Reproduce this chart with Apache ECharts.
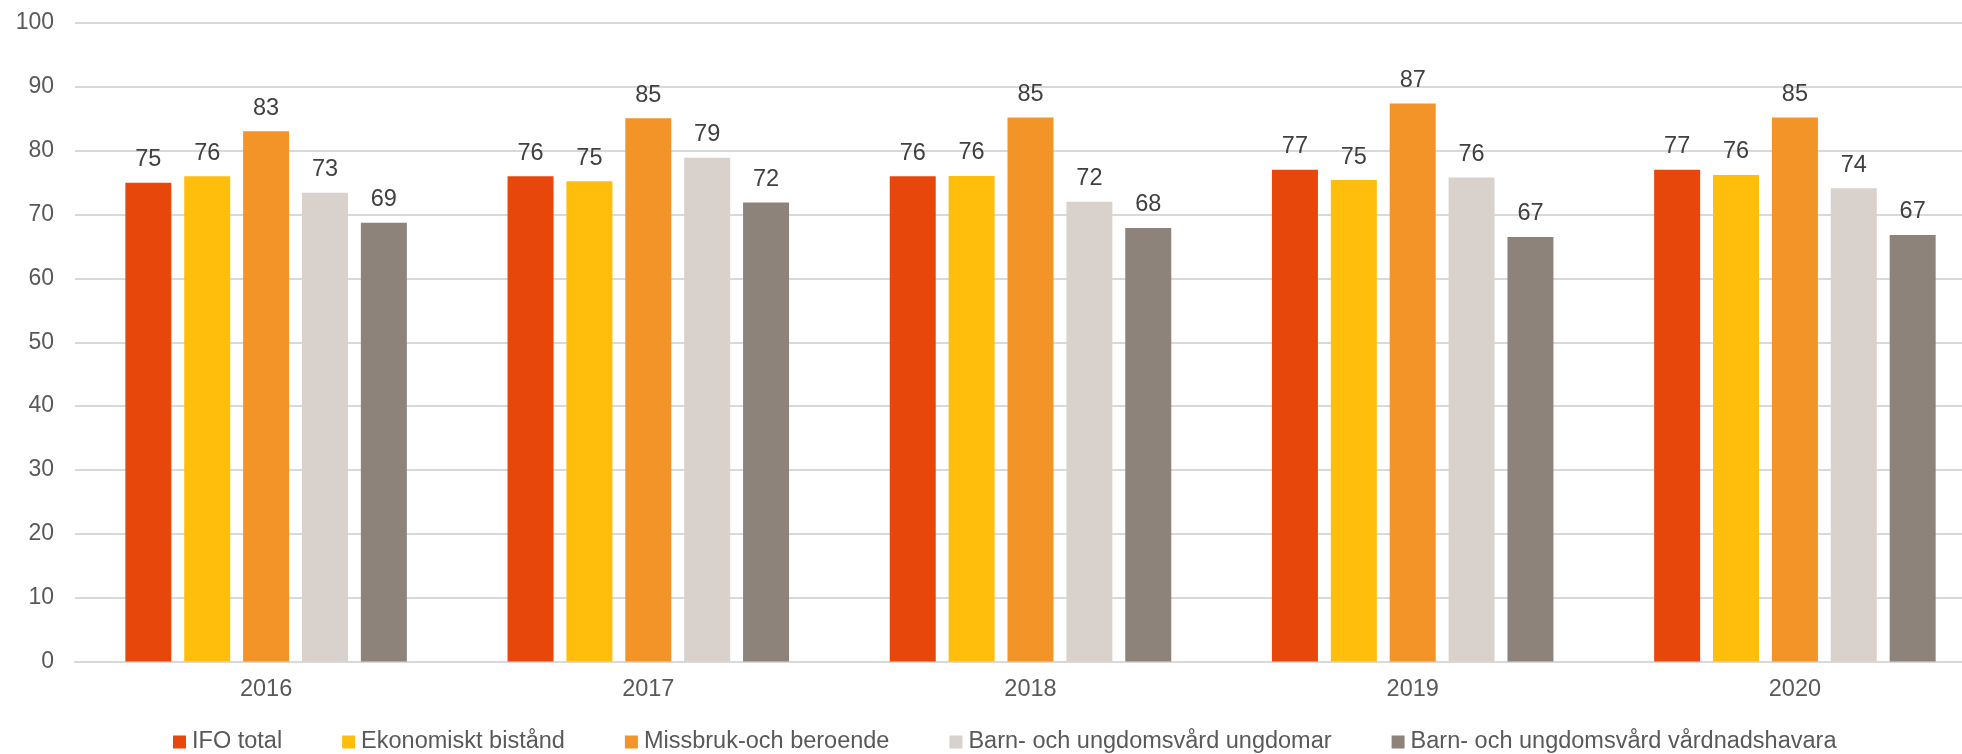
<!DOCTYPE html>
<html>
<head>
<meta charset="utf-8">
<style>
html,body{margin:0;padding:0;background:#fff;}
#chart{width:1962px;height:754px;}
</style>
<script src="https://cdn.jsdelivr.net/npm/echarts@6/dist/echarts.min.js"></script>
</head>
<body>
<div id="chart"></div>
<script>
const categories = ['2016', '2017', '2018', '2019', '2020'];
const seriesNames = ['IFO total', 'Ekonomiskt bistånd', 'Missbruk-och beroende', 'Barn- och ungdomsvård ungdomar', 'Barn- och ungdomsvård vårdnadshavara'];
const ifoTotal = [75.0, 76.0, 76.0, 77.0, 77.0];
const ekonomiskt = [76.0, 75.2, 76.05, 75.4, 76.2];
const missbruk = [83.05, 85.1, 85.2, 87.4, 85.2];
const barnUngdomar = [73.4, 78.9, 72.0, 75.8, 74.1];
const barnVardnad = [68.7, 71.9, 67.9, 66.5, 66.8];
const yTicks = [0, 10, 20, 30, 40, 50, 60, 70, 80, 90, 100];
const colors = ['#E8470B', '#FFBE0B', '#F29427', '#D9D2CC', '#8E837A'];

const font = 'Liberation Sans, Arial, sans-serif';
const allValues = [ifoTotal, ekonomiskt, missbruk, barnUngdomar, barnVardnad];

const chart = echarts.init(document.getElementById('chart'), null, {renderer: 'canvas'});
chart.setOption({
  animation: false,
  backgroundColor: '#ffffff',
  color: colors,
  grid: {left: 75, right: -24, top: 23, bottom: 92.5, containLabel: false, outerBoundsMode: 'none'},
  legend: {
    left: 173, top: 730, padding: 0,
    itemWidth: 13, itemHeight: 13, itemGap: 60,
    icon: 'rect',
    textStyle: {fontFamily: font, fontSize: 23.5, color: '#595959', lineHeight: 24, padding: [0, 0, 0, 1]},
    data: seriesNames
  },
  xAxis: {
    type: 'category',
    data: categories,
    axisTick: {show: false},
    axisLine: {lineStyle: {color: '#d9d9d9', width: 2}},
    axisLabel: {fontFamily: font, fontSize: 23.5, color: '#595959', margin: 16}
  },
  yAxis: {
    type: 'value',
    min: yTicks[0], max: yTicks[yTicks.length - 1], interval: 10,
    axisLine: {show: false},
    axisTick: {show: false},
    splitLine: {lineStyle: {color: '#d9d9d9', width: 2}},
    axisLabel: {fontFamily: font, fontSize: 23, color: '#595959', margin: 21}
  },
  series: seriesNames.map((name, i) => ({
    name: name,
    type: 'bar',
    data: allValues[i],
    barWidth: 46,
    barGap: '28%',
    itemStyle: {color: colors[i]},
    label: {
      show: true, position: 'top', distance: 11,
      fontFamily: font, fontSize: 23.5, color: '#404040',
      formatter: p => Math.round(p.value)
    }
  }))
});
</script>
</body>
</html>
